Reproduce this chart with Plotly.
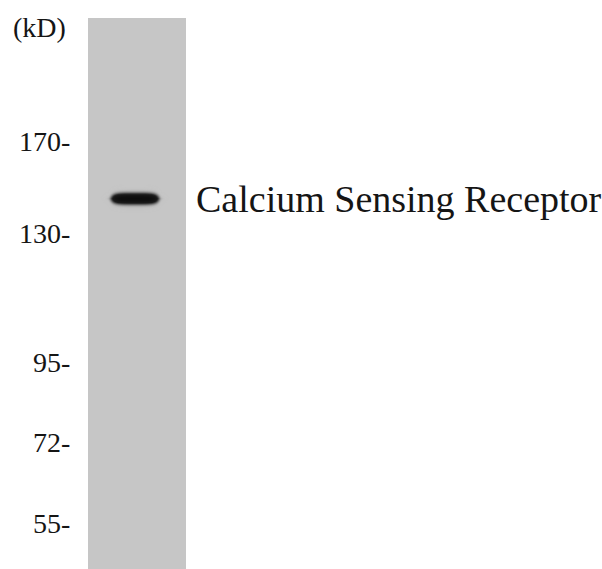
import numpy as np
import plotly.graph_objects as go

marker_labels = ["170-", "130-", "95-", "72-", "55-"]
marker_rows = [141, 233, 362, 442, 523]

# Detected band
band_name = "Calcium Sensing Receptor"
band_row = 198.5
band_intensity = 1.0

W, H = 602, 569
lane_x0, lane_x1, lane_top = 88, 186, 18

fig = go.Figure()

# lane background
fig.add_shape(type="rect", x0=lane_x0, x1=lane_x1, y0=lane_top, y1=H + 5,
              fillcolor="rgb(198,198,198)", line_width=0, layer="below")

# band rendered as a smooth intensity image
bx = np.linspace(98, 170, 73)
by = np.linspace(band_row - 15, band_row + 15, 61)
cx, hw = 134.0, 26.5
X, Y = np.meshgrid(bx, by)
ux = np.abs(X - cx) / hw
half_h = 7.5 * np.sqrt(np.clip(1 - ux ** 4, 0.05, 1))
dy = np.abs(Y - band_row)
prof = 1 / (1 + np.exp((dy - half_h * 0.75) / 1.6))
prof *= 1 / (1 + np.exp((np.abs(X - cx) - hw + 2) / 2.0))
z = band_intensity * prof
fig.add_trace(go.Heatmap(
    x=bx, y=by, z=z, zmin=0, zmax=1, zsmooth="best", showscale=False,
    colorscale=[[0, "rgba(198,198,198,0)"], [0.3, "rgba(130,130,130,0.7)"],
                [0.65, "rgba(30,30,30,1)"], [1, "rgba(12,12,12,1)"]],
    hoverinfo="skip"))

label_font = dict(family="Liberation Serif", size=28, color="#151515")

# marker labels
for lab, row in zip(marker_labels, marker_rows):
    fig.add_annotation(x=72, y=row, text=lab, showarrow=False, xanchor="right",
                       yanchor="middle", font=label_font)

fig.add_annotation(x=11, y=27, text="(kD)", showarrow=False, xanchor="left", yanchor="middle",
                   font=label_font)

fig.add_annotation(x=194, y=band_row, text=band_name, showarrow=False, xanchor="left",
                   yanchor="middle", font=dict(family="Liberation Serif", size=38, color="#151515"))

fig.update_layout(
    width=W, height=H, margin=dict(l=0, r=0, t=0, b=0),
    paper_bgcolor="white", plot_bgcolor="white", showlegend=False,
    xaxis=dict(range=[0, W], visible=False, fixedrange=True),
    yaxis=dict(range=[H, 0], visible=False, fixedrange=True),
)
fig.write_html("out.html", config={"displayModeBar": False},
               post_script="document.body.style.margin='0px';")
